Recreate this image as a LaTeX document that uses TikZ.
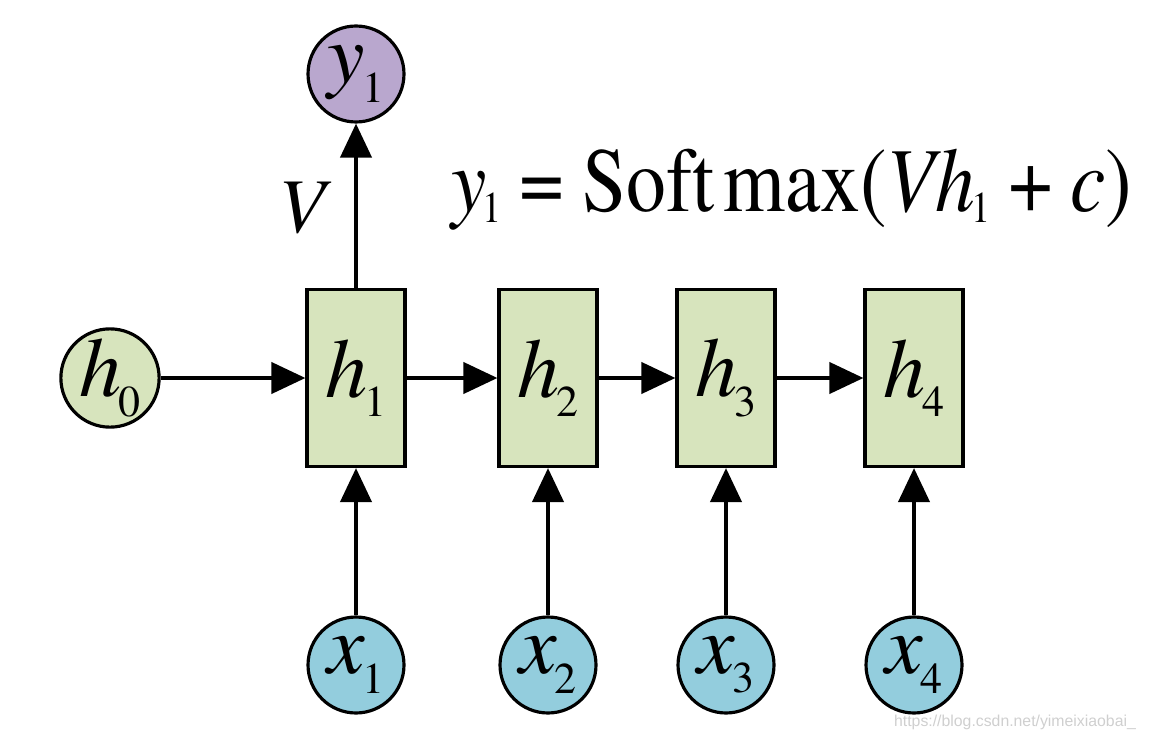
\documentclass[tikz,border=0pt]{standalone}
\usepackage{fontspec}
\setmainfont{texgyretermes}[
    Extension=.otf,
    UprightFont=*-regular,
    ItalicFont=*-italic,
    BoldFont=*-bold,
    BoldItalicFont=*-bolditalic]
\newfontfamily\eqfont{texgyretermes}[
    Extension=.otf,
    UprightFont=*-regular,
    ItalicFont=*-italic,
    FakeStretch=0.87]
\newfontfamily\markfont{Liberation Sans}
\usetikzlibrary{arrows.meta,positioning}
\definecolor{StateGreen}{HTML}{D7E4BD}
\definecolor{InputBlue}{HTML}{93CDDD}
\definecolor{OutputLilac}{HTML}{B9A7CE}
\definecolor{MarkGray}{HTML}{CFCFCF}
\newcommand{\lowidx}[2][11pt]{\kern-0.04em\raisebox{-#1}{\fontsize{25}{25}\selectfont\upshape #2}}
\newcommand{\gap}{\hspace{10pt}}
\tikzset{
    every node/.style={font=\fontsize{48}{56}\selectfont\itshape},
    stateblock/.style={
        draw=black, fill=StateGreen, line width=1.8pt,
        minimum width=1.96cm, minimum height=3.54cm,
        inner sep=0pt, sharp corners
    },
    ballnode/.style={
        circle, draw=black, fill=#1, line width=1.8pt,
        minimum size=1.92cm, inner sep=0pt
    },
    flowarrow/.style={
        -{Triangle[length=0.68cm,width=0.62cm]}, line width=2.3pt
    },
}
\begin{document}
\begin{tikzpicture}[x=0.02cm, y=-0.02cm]
    \useasboundingbox (0,0) rectangle (1152,743);

    % Initial state and output
    \node[ballnode=StateGreen] (h0) at (110,378) {h\lowidx{0}};
    \node[ballnode=OutputLilac] (y1) at (356,74) {y\lowidx{1}};

    % Hidden states with their inputs
    \foreach \i/\x in {1/356,2/548,3/726,4/914} {
        \node[stateblock] (h\i) at (\x,378) {h\lowidx{\i}};
        \node[ballnode=InputBlue] (x\i) at (\x,665) {x\lowidx{\i}};
        \draw[flowarrow] (x\i) -- (h\i);
    }

    % Recurrence
    \foreach \a/\b in {h0/h1,h1/h2,h2/h3,h3/h4}
        \draw[flowarrow] (\a) -- (\b);

    % Output weight
    \draw[flowarrow] (h1) -- (y1);
    \node[font=\fontsize{44}{50}\selectfont\itshape] (vlabel) at (302,208) {V};

    % Output equation
    \node[anchor=base west, inner sep=0pt, font=\eqfont\fontsize{52}{60}\selectfont] (softmax) at (451,212)
        {\textit{y}\lowidx[6pt]{1}\gap=\gap Soft\hspace{5pt}max(\textit{Vh}\lowidx[6pt]{1}\gap+\gap\textit{c})};

    % Source mark
    \node[font=\markfont\fontsize{9}{10}\selectfont, text=MarkGray] (mark) at (1015,722)
        {https://blog.csdn.net/yimeixiaobai\_};
\end{tikzpicture}
\end{document}
